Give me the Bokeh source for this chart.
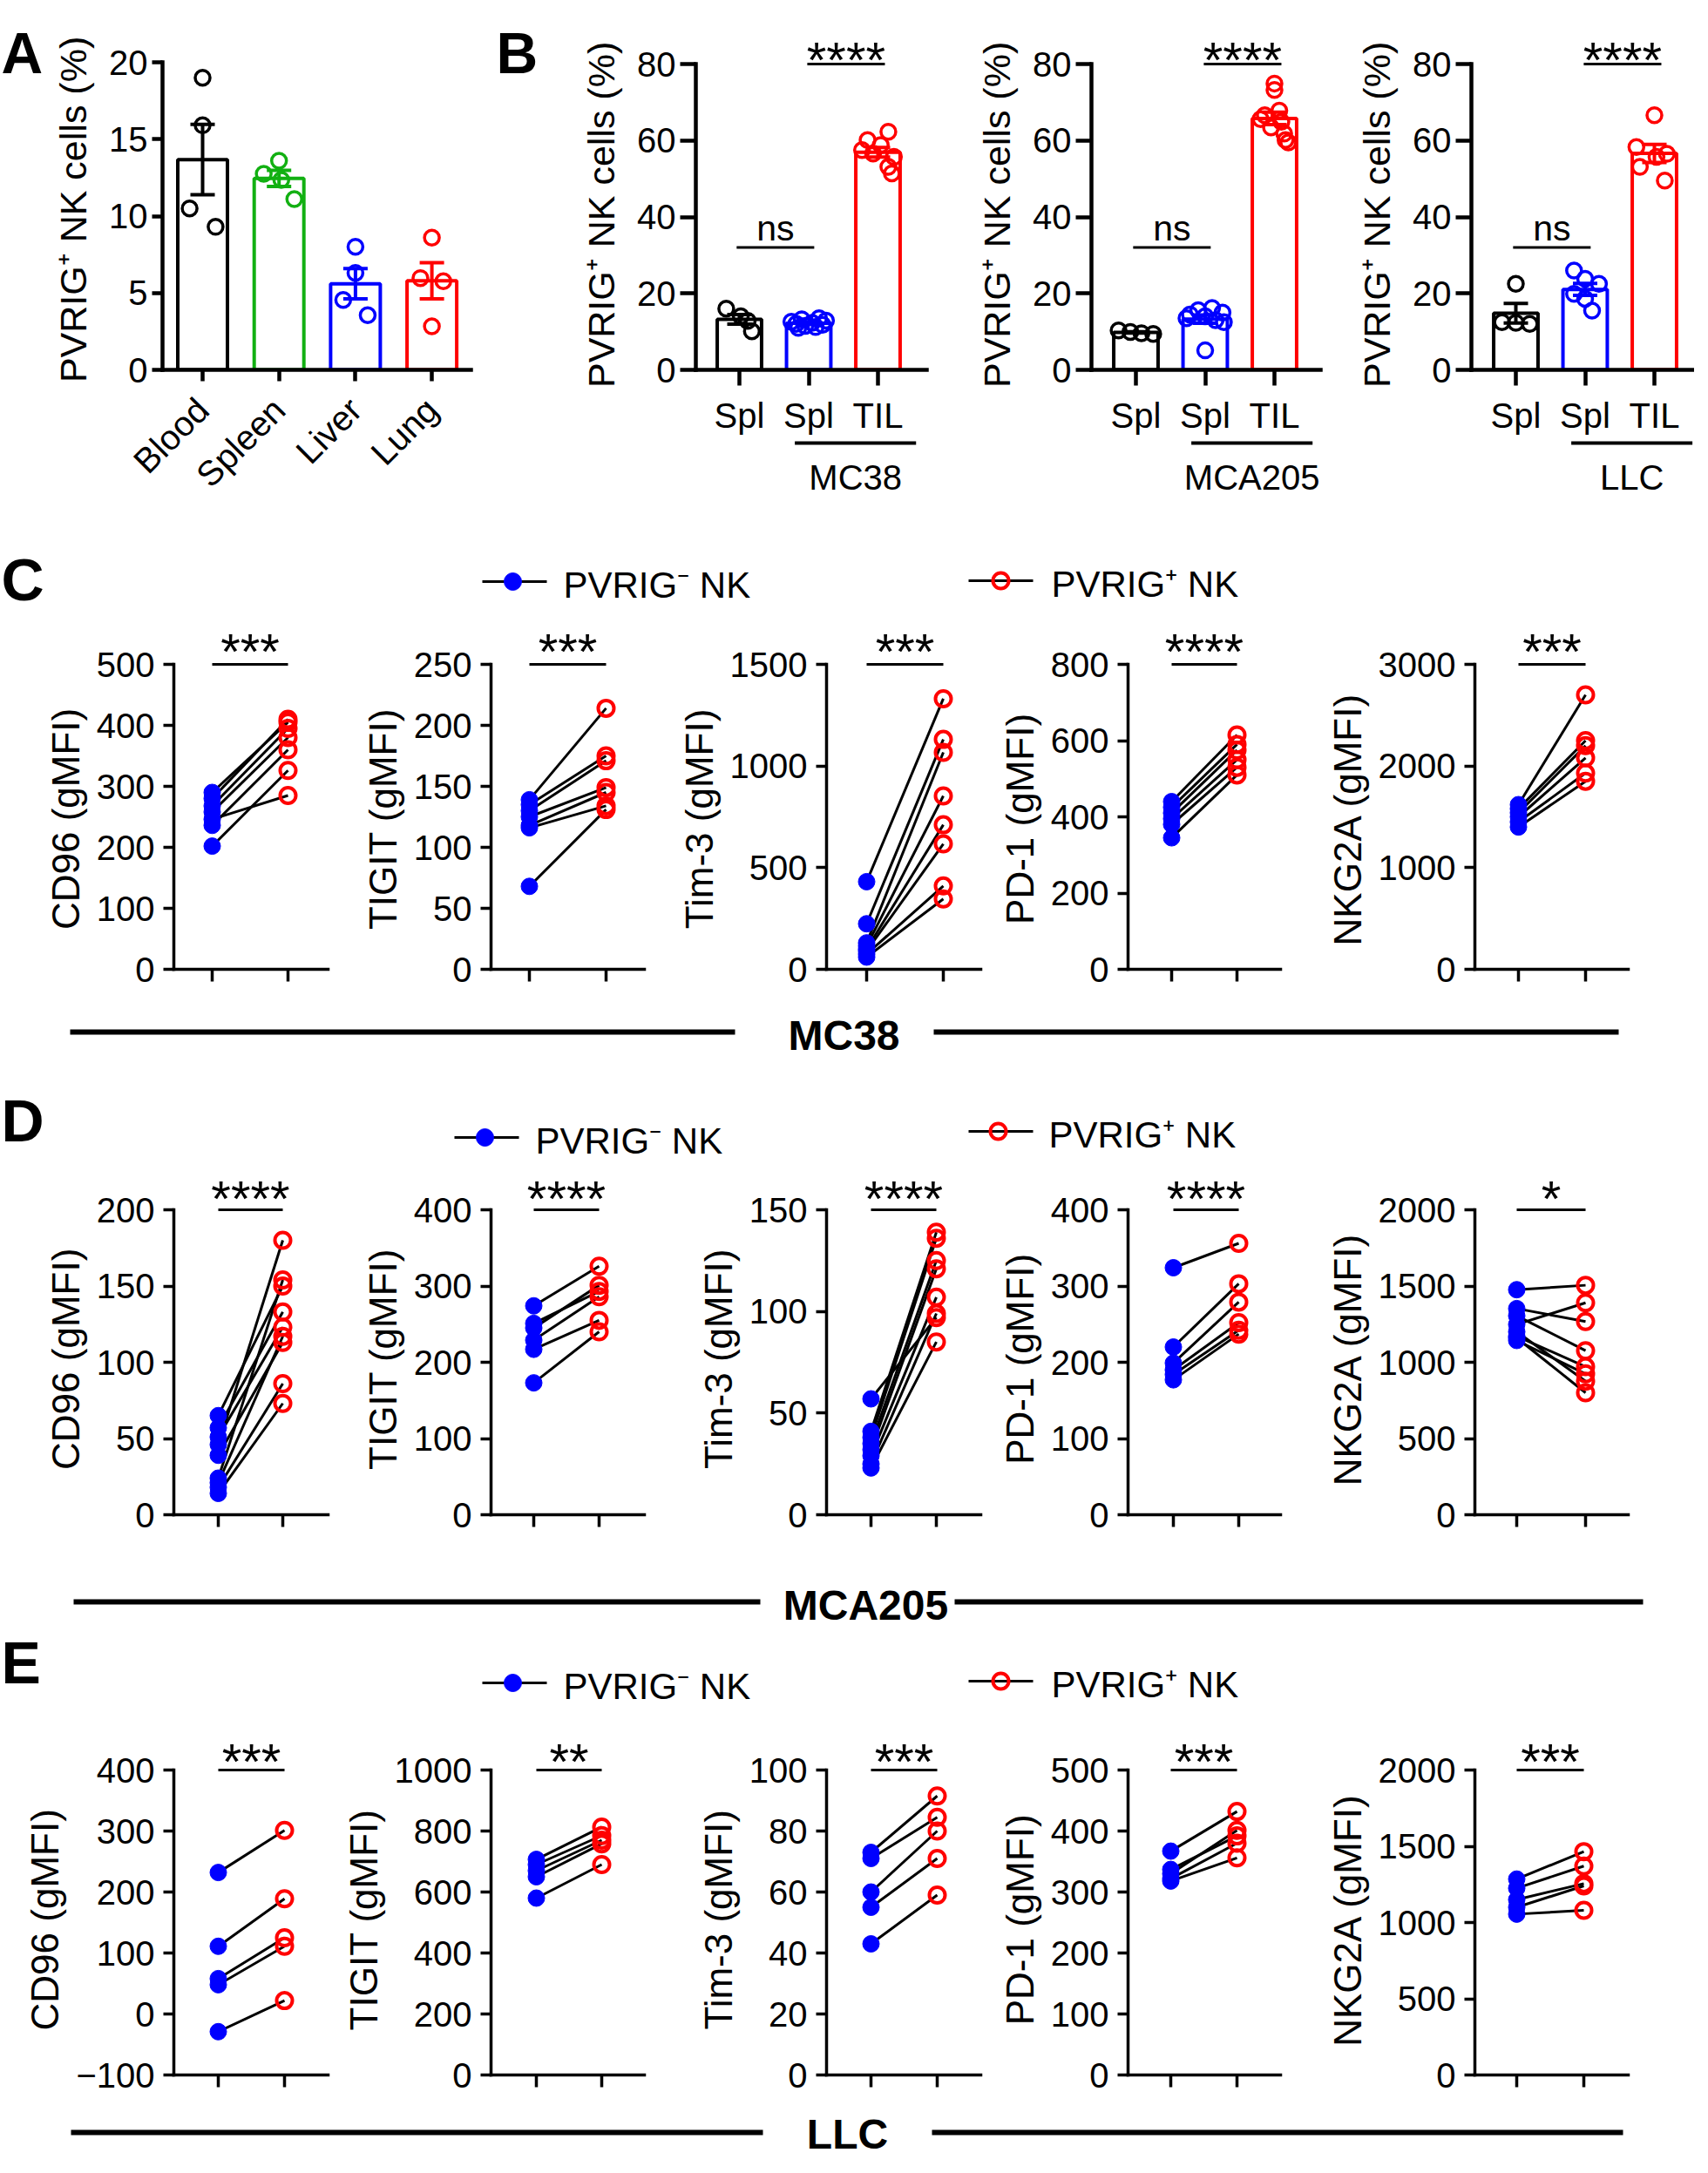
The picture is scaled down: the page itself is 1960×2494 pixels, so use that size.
import math
import numpy as np
from bokeh.plotting import figure
from bokeh.layouts import column, row
from bokeh.models import Range1d, FixedTicker, Whisker, TeeHead, ColumnDataSource
from bokeh.embed import file_html
from bokeh.resources import INLINE
from bokeh.core.properties import value

FONT = "Liberation Sans"
NB = "\u00a0"

# ===================== DATA =====================
# Panel A
a_categories = ["Blood", "Spleen", "Liver", "Lung"]
a_blood = [19.0, 15.9, 10.5, 9.3]
a_spleen = [13.6, 12.75, 12.35, 11.1]
a_liver = [8.0, 6.3, 4.55, 3.55]
a_lung = [8.6, 5.97, 5.77, 2.83]
a_yticks = [0, 5, 10, 15, 20]
a_ylabel = "PVRIG⁺ NK cells (%)"

# Panel B
b_tick_labels = ["Spl", "Spl", "TIL"]
b_tumors = ["MC38", "MCA205", "LLC"]
b_yticks = [0, 20, 40, 60, 80]
b_mc38_naive_spl = [16.0, 14.0, 12.8, 10.1]
b_mc38_tumor_spl = [13.5, 13.2, 12.9, 12.6, 12.3, 12.0, 11.8, 11.5, 11.2, 11.0]
b_mc38_til = [62.3, 60.1, 58.8, 57.5, 56.6, 55.7, 53.1, 51.4]
b_mca205_naive_spl = [10.3, 9.9, 9.6, 9.4]
b_mca205_tumor_spl = [16.2, 15.6, 15.0, 14.5, 14.0, 13.5, 13.0, 12.5, 5.1]
b_mca205_til = [74.9, 73.2, 67.8, 66.6, 65.6, 64.9, 63.4, 61.8, 60.1, 59.5]
b_llc_naive_spl = [22.5, 12.5, 12.3, 12.0]
b_llc_tumor_spl = [26.0, 23.8, 22.5, 19.9, 18.6, 15.5]
b_llc_til = [66.6, 58.3, 56.5, 55.7, 53.1, 49.5]
b_sig_left = ["ns", "ns", "ns"]
b_sig_right = ["****", "****", "****"]
b_sig_left_height = 32
b_sig_right_height = 80

# Panels C-E
markers = ["CD96", "TIGIT", "Tim-3", "PD-1", "NKG2A"]
legend_labels = ["PVRIG⁻ NK", "PVRIG⁺ NK"]
section_labels = ["MC38", "MCA205", "LLC"]

c_cd96_neg = [290, 280, 268, 258, 246, 236, 202]
c_cd96_pos = [405, 410, 395, 380, 285, 360, 326]
c_tigit_neg = [139, 135, 130, 125, 118, 116, 68]
c_tigit_pos = [214, 175, 171, 149, 145, 134, 131]
c_tim3_neg = [431, 224, 130, 115, 100, 90, 75, 60]
c_tim3_pos = [1331, 1131, 1067, 853, 711, 617, 410, 346]
c_pd1_neg = [440, 425, 410, 395, 380, 345]
c_pd1_pos = [615, 590, 575, 550, 530, 510]
c_nkg2a_neg = [1620, 1580, 1540, 1500, 1450, 1400]
c_nkg2a_pos = [2700, 2250, 2200, 2080, 1930, 1850]
c_yticks = [[0, 100, 200, 300, 400, 500], [0, 50, 100, 150, 200, 250],
            [0, 500, 1000, 1500], [0, 200, 400, 600, 800], [0, 1000, 2000, 3000]]
c_sig = ["***", "***", "***", "****", "***"]

d_cd96_neg = [65, 57, 51, 46, 39, 24, 21, 18, 14]
d_cd96_pos = [150, 133, 123, 180, 113, 154, 117, 86, 73]
d_tigit_neg = [274, 251, 245, 229, 217, 173]
d_tigit_pos = [326, 293, 301, 286, 255, 240]
d_tim3_neg = [57, 41, 38, 35, 32, 29, 25, 23]
d_tim3_pos = [97, 139, 136, 125, 121, 107, 99, 85]
d_pd1_neg = [324, 220, 199, 190, 184, 177]
d_pd1_pos = [356, 303, 279, 252, 242, 237]
d_nkg2a_neg = [1476, 1352, 1248, 1305, 1171, 1143, 1200, 1160]
d_nkg2a_pos = [1505, 1267, 1390, 1076, 971, 924, 876, 800]
d_yticks = [[0, 50, 100, 150, 200], [0, 100, 200, 300, 400], [0, 50, 100, 150],
            [0, 100, 200, 300, 400], [0, 500, 1000, 1500, 2000]]
d_sig = ["****", "****", "****", "****", "*"]

e_cd96_neg = [232, 111, 58, 48, -29]
e_cd96_pos = [301, 189, 125, 111, 22]
e_tigit_neg = [707, 690, 670, 650, 580]
e_tigit_pos = [813, 785, 770, 758, 690]
e_tim3_neg = [73, 71, 60, 55, 43]
e_tim3_pos = [91.5, 84.5, 80, 71, 59]
e_pd1_neg = [367, 337, 330, 322, 318]
e_pd1_pos = [432, 392, 401, 380, 356]
e_nkg2a_neg = [1285, 1225, 1150, 1100, 1055]
e_nkg2a_pos = [1465, 1370, 1255, 1240, 1080]
e_yticks = [[-100, 0, 100, 200, 300, 400], [0, 200, 400, 600, 800, 1000],
            [0, 20, 40, 60, 80, 100], [0, 100, 200, 300, 400, 500], [0, 500, 1000, 1500, 2000]]
e_sig = ["***", "**", "***", "***", "***"]

# ===================== STYLE / LAYOUT =====================
BLACK, GREEN, BLUE, RED = "#000000", "#12B012", "#0000FF", "#FF0000"
a_colors = [BLACK, GREEN, BLUE, RED]
b_colors = [BLACK, BLUE, RED]

# horizontal scatter offsets of the dots (category units)
a_jitter = [[0.0, 0.0, -0.17, 0.17], [0.0, -0.2, 0.03, 0.2],
            [0.0, 0.0, -0.16, 0.16], [0.0, -0.15, 0.15, 0.0]]
b_jitter = [
    [[-0.19, 0.02, 0.12, 0.18], [0.15, -0.1, 0.25, -0.25, 0.05, -0.18, 0.2, -0.05, 0.1, -0.15],
     [0.15, -0.15, 0.04, -0.23, -0.07, 0.23, 0.15, 0.2]],
    [[-0.25, -0.08, 0.08, 0.25], [0.1, -0.1, 0.25, -0.22, 0.0, -0.27, 0.15, 0.27, 0.0],
     [0.0, 0.0, 0.07, -0.14, -0.2, 0.1, -0.05, 0.14, 0.16, 0.2]],
    [[0.0, -0.2, 0.0, 0.2], [-0.16, 0.0, 0.2, -0.16, 0.0, 0.1],
     [0.0, -0.26, 0.18, 0.03, -0.21, 0.15]],
]


def make_fig(fx0, fx1, fy0, fy1, frame, xr, yr, axes=True):
    l, r, t, b = frame
    kw = {} if axes else dict(x_axis_type=None, y_axis_type=None)
    p = figure(width=fx1 - fx0, height=fy1 - fy0,
               x_range=Range1d(*xr), y_range=Range1d(*yr),
               min_border_left=l - fx0, min_border_right=fx1 - r,
               min_border_top=t - fy0, min_border_bottom=fy1 - b,
               output_backend="svg", toolbar_location=None, tools="", **kw)
    p.outline_line_color = None
    if axes:
        p.xgrid.visible = False
        p.ygrid.visible = False
    p.background_fill_color = None
    p.border_fill_color = None
    return p


def pixel_fig(x0, x1, y0, y1):
    return make_fig(x0, x1, y0, y1, (x0, x1, y0, y1), (x0, x1), (y1, y0), axes=False)


def style_axis(ax, lw, tick_out, fs, standoff, lab_fs=None, lab_standoff=None):
    ax.axis_line_width = lw
    ax.axis_line_color = "black"
    ax.axis_line_cap = "square"
    ax.major_tick_line_width = lw
    ax.major_tick_line_color = "black"
    ax.major_tick_in = 0
    ax.major_tick_out = tick_out
    ax.minor_tick_line_color = None
    ax.major_label_text_font = FONT
    ax.major_label_text_font_size = f"{fs}px"
    ax.major_label_text_color = "black"
    ax.major_label_standoff = standoff
    ax.axis_label_text_font = FONT
    ax.axis_label_text_font_style = "normal"
    ax.axis_label_text_color = "black"
    if lab_fs is not None:
        ax.axis_label_text_font_size = f"{lab_fs}px"
    if lab_standoff is not None:
        ax.axis_label_standoff = lab_standoff


def bar_panel(fx, fy, frame, bar0_px, step_px, top_px, yticks, groups, colors, jitter,
              xlabels, ylabel, bar_w, ytick_out, xtick_out, xstandoff, rotate=False):
    l, r, t, b = frame
    xr = ((l - bar0_px) / step_px, (r - bar0_px) / step_px)
    ymax = yticks[-1]
    upp = ymax / (b - top_px)
    yr = (0, ymax + (top_px - t) * upp)
    p = make_fig(fx[0], fx[1], fy[0], fy[1], frame, xr, yr)
    means = [float(np.mean(g)) for g in groups]
    sems = [float(np.std(g, ddof=1) / np.sqrt(len(g))) for g in groups]
    xs = list(range(len(groups)))
    p.vbar(x=xs, top=means, bottom=0, width=bar_w, fill_color=None,
           line_color=colors, line_width=4)
    for i, g in enumerate(groups):
        src = ColumnDataSource(dict(x=[i], lo=[means[i] - sems[i]], hi=[means[i] + sems[i]]))
        p.add_layout(Whisker(base="x", lower="lo", upper="hi", source=src,
                             line_color=colors[i], line_width=4,
                             upper_head=TeeHead(size=28, line_color=colors[i], line_width=4),
                             lower_head=TeeHead(size=28, line_color=colors[i], line_width=4)))
        p.scatter(x=[i + j for j in jitter[i]], y=g, marker="circle", size=17,
                  fill_color=None, line_color=colors[i], line_width=3.5)
    p.yaxis.ticker = FixedTicker(ticks=yticks)
    p.yaxis.bounds = (0, ymax)
    p.yaxis.axis_label = ylabel
    style_axis(p.yaxis[0], 4.5, ytick_out, 40, 5, 43, 14)
    p.xaxis.ticker = FixedTicker(ticks=xs)
    p.xaxis.major_label_overrides = {i: lab for i, lab in enumerate(xlabels)}
    style_axis(p.xaxis[0], 4.5, xtick_out, 40, xstandoff)
    if rotate:
        p.xaxis.major_label_orientation = math.pi / 4
    return p, xr, yr


def pair_panel(fx, fy, frame, tick_px, top_px, yticks, neg, pos, ylabel, sig, star_off):
    l, r, t, b = frame
    step = tick_px[1] - tick_px[0]
    xr = ((l - tick_px[0]) / step, (r - tick_px[0]) / step)
    ymin, ymax = yticks[0], yticks[-1]
    upp = (ymax - ymin) / (b - top_px)
    yr = (ymin, ymax + (top_px - t) * upp)
    p = make_fig(fx[0], fx[1], fy[0], fy[1], frame, xr, yr)
    p.multi_line(xs=[[0, 1] for _ in neg], ys=[[u, v] for u, v in zip(neg, pos)],
                 line_color="black", line_width=3)
    p.scatter(x=[0] * len(neg), y=neg, marker="circle", size=19,
              fill_color=BLUE, line_color=BLUE, line_width=1)
    p.scatter(x=[1] * len(pos), y=pos, marker="circle", size=18,
              fill_color=None, line_color=RED, line_width=4)
    p.segment(x0=[0], y0=[ymax], x1=[1], y1=[ymax], line_color="black", line_width=3)
    p.text(x=[0.5], y=[ymax], text=[sig], text_align="center", text_baseline="middle",
           y_offset=star_off, text_font=value(FONT), text_font_size="58px", text_color="black")
    p.yaxis.ticker = FixedTicker(ticks=yticks)
    p.yaxis.bounds = (ymin, ymax)
    p.yaxis.axis_label = ylabel
    style_axis(p.yaxis[0], 3.5, 12, 40, 10, 44, 8)
    p.xaxis.ticker = FixedTicker(ticks=[0, 1])
    p.xaxis.major_label_overrides = {0: "", 1: ""}
    style_axis(p.xaxis[0], 3.5, 14, 1, 0)
    return p


def draw_letter(p, letter, lx, ly, fs=68):
    p.text(x=[lx], y=[ly], text=[letter], text_font=value(FONT), text_font_size=f"{fs}px",
           text_font_style="bold", text_align="left", text_baseline="middle", text_color="black")


def letter_fig(x0, x1, y0, y1, letter, lx, ly):
    p = pixel_fig(x0, x1, y0, y1)
    draw_letter(p, letter, lx, ly, 66)
    return p


# ---------------- Row 1: A and B ----------------
Y1 = (8, 612)
A_FRAME = (194, 548, 40, 432)
letterA = letter_fig(8, 60, 8, 612, "A", 9, 52)
figA, _, _ = bar_panel((60, 575), Y1, A_FRAME, 240, 87.7, 79, a_yticks,
                       [a_blood, a_spleen, a_liver, a_lung], a_colors, a_jitter,
                       a_categories, a_ylabel + NB * 2, 0.65, 12, 13, 26, rotate=True)
letterB = letter_fig(575, 640, 8, 612, "B", 577, 52)

b_groups = [[b_mc38_naive_spl, b_mc38_tumor_spl, b_mc38_til],
            [b_mca205_naive_spl, b_mca205_tumor_spl, b_mca205_til],
            [b_llc_naive_spl, b_llc_tumor_spl, b_llc_til]]
b_fig_x = [(640, 1090), (1090, 1535), (1535, 1952)]
b_frames = [(806, 1071, 40, 432), (1260, 1523, 40, 432), (1696, 1950, 40, 432)]
b_bar0 = [856, 1311, 1747]
B_MAIN_Y = (8, 510)
B_SUB_Y = (510, 612)
b_cols = []
for k in range(3):
    p, xr, yr = bar_panel(b_fig_x[k], B_MAIN_Y, b_frames[k], b_bar0[k], 79.5, 81, b_yticks,
                          b_groups[k], b_colors, b_jitter[k], b_tick_labels,
                          a_ylabel + NB * 3, 0.64, 18, 18, 12)
    p.segment(x0=[-0.04, 0.98], y0=[b_sig_left_height, b_sig_right_height],
              x1=[1.08, 2.10], y1=[b_sig_left_height, b_sig_right_height],
              line_color="black", line_width=3)
    p.text(x=[0.52], y=[b_sig_left_height], text=[b_sig_left[k]], text_align="center",
           text_baseline="middle", y_offset=-22, text_font=value(FONT),
           text_font_size="41px", text_color="black")
    p.text(x=[1.54], y=[b_sig_right_height], text=[b_sig_right[k]], text_align="center",
           text_baseline="middle", y_offset=-5, text_font=value(FONT),
           text_font_size="58px", text_color="black")
    # tumour group line + label under the axis (same x scale as the panel)
    l, r, _, _ = b_frames[k]
    sub = make_fig(b_fig_x[k][0], b_fig_x[k][1], B_SUB_Y[0], B_SUB_Y[1],
                   (l, r, B_SUB_Y[0], B_SUB_Y[1]), xr, (B_SUB_Y[1], B_SUB_Y[0]), axes=False)
    sub.segment(x0=[0.8], y0=[516], x1=[2.55], y1=[516], line_color="black", line_width=4)
    sub.text(x=[1.675], y=[555], text=[b_tumors[k]], text_align="center", text_baseline="middle",
             text_font=value(FONT), text_font_size="40px", text_color="black")
    b_cols.append(column(p, sub))

row1 = row(letterA, figA, letterB, *b_cols)


# ---------------- full-width bands (separators, letters, legends) ----------------
def band(fy0, fy1, sep=None, letter=None, legends=()):
    p = pixel_fig(8, 1952, fy0, fy1)
    if sep is not None:
        yy, left, right, lab, lab_x, lab_y = sep
        p.segment(x0=[left[0], right[0]], y0=[yy, yy], x1=[left[1], right[1]], y1=[yy, yy],
                  line_color="black", line_width=6)
        p.text(x=[lab_x], y=[lab_y], text=[lab], text_font=value(FONT), text_font_size="48px",
               text_font_style="bold", text_align="center", text_baseline="middle",
               text_color="black")
    if letter is not None:
        draw_letter(p, letter[0], 9, letter[1])
    for (lx0, lx1, yy, mx, tx, lab, filled) in legends:
        p.segment(x0=[lx0], y0=[yy], x1=[lx1], y1=[yy], line_color="black", line_width=3)
        if filled:
            p.scatter(x=[mx], y=[yy], marker="circle", size=20, fill_color=BLUE, line_color=BLUE)
        else:
            p.scatter(x=[mx], y=[yy], marker="circle", size=18, fill_color=None,
                      line_color=RED, line_width=4)
        p.text(x=[tx], y=[yy + 4], text=[lab], text_font=value(FONT), text_font_size="42px",
               text_align="left", text_baseline="middle", text_color="black")
    return p


COL_X = [8, 390, 775, 1145, 1500, 1952]
COL_AXIS = [207, 571, 956, 1302, 1700]
COL_END = [384, 747, 1133, 1477, 1876]


def panel_row(fy, top_px, bot_px, frame_top, ticks_px, yticks, negs, poss, sigs, pad, star_off):
    figs = []
    for i in range(5):
        frame = (COL_AXIS[i], COL_END[i], frame_top, bot_px)
        figs.append(pair_panel((COL_X[i], COL_X[i + 1]), fy, frame, ticks_px[i], top_px,
                               yticks[i], negs[i], poss[i], f"{markers[i]} (gMFI)" + NB * pad,
                               sigs[i], star_off))
    return row(*figs)


legC = [(561, 635, 675, 596, 654, legend_labels[0], True),
        (1119, 1193, 674, 1156, 1214, legend_labels[1], False)]
legD = [(529, 603, 1313, 564, 622, legend_labels[0], True),
        (1119, 1193, 1306, 1153, 1211, legend_labels[1], False)]
legE = [(561, 635, 1939, 596, 654, legend_labels[0], True),
        (1119, 1193, 1937, 1156, 1214, legend_labels[1], False)]

bandC = band(612, 722, letter=("C", 672), legends=legC)
rowC = panel_row((722, 1150), 770, 1120, 726,
                 [(251, 338), (615, 703), (1002, 1090), (1352, 1427), (1750, 1827)],
                 c_yticks,
                 [c_cd96_neg, c_tigit_neg, c_tim3_neg, c_pd1_neg, c_nkg2a_neg],
                 [c_cd96_pos, c_tigit_pos, c_tim3_pos, c_pd1_pos, c_nkg2a_pos], c_sig, 4, -15)
bandCD = band(1150, 1345, sep=(1192, (88, 851), (1079, 1865), section_labels[0], 976, 1196),
              letter=("D", 1293), legends=legD)
rowD = panel_row((1345, 1790), 1396, 1746, 1352,
                 [(258, 332), (620, 695), (1007, 1082), (1354, 1429), (1748, 1827)],
                 d_yticks,
                 [d_cd96_neg, d_tigit_neg, d_tim3_neg, d_pd1_neg, d_nkg2a_neg],
                 [d_cd96_pos, d_tigit_pos, d_tim3_pos, d_pd1_pos, d_nkg2a_pos], d_sig, 3, -13)
bandDE = band(1790, 1990, sep=(1846, (92, 880), (1103, 1893), section_labels[1], 1001, 1850),
              letter=("E", 1915), legends=legE)
rowE = panel_row((1990, 2415), 2039, 2389, 1996,
                 [(258, 334), (623, 698), (1007, 1083), (1351, 1427), (1748, 1825)],
                 e_yticks,
                 [e_cd96_neg, e_tigit_neg, e_tim3_neg, e_pd1_neg, e_nkg2a_neg],
                 [e_cd96_pos, e_tigit_pos, e_tim3_pos, e_pd1_pos, e_nkg2a_pos], e_sig, 3, -10)
bandE = band(2415, 2486, sep=(2455, (89, 883), (1077, 1870), section_labels[2], 980, 2457))

layout = column(row1, bandC, rowC, bandCD, rowD, bandDE, rowE, bandE)

open("out.html", "w").write(file_html(layout, INLINE))
